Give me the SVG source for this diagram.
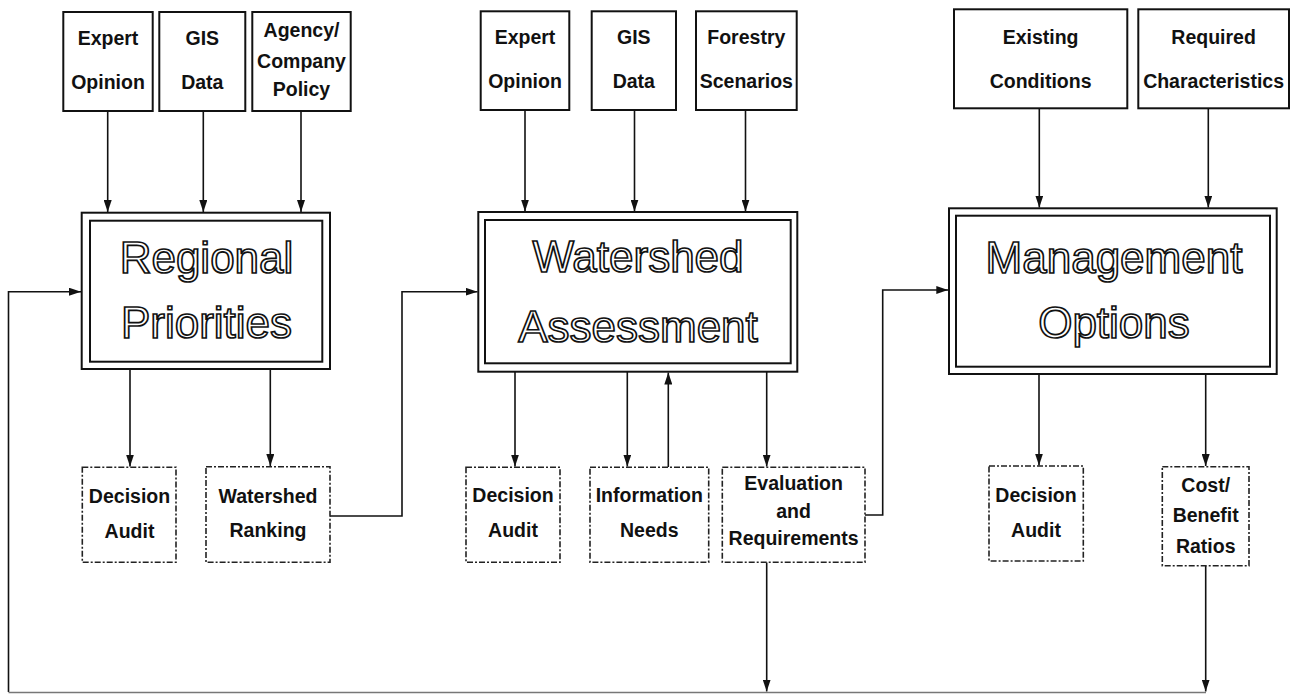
<svg xmlns="http://www.w3.org/2000/svg" width="1294" height="694" viewBox="0 0 1294 694">
<defs>
<marker id="ah" markerWidth="12" markerHeight="8" refX="12" refY="4" orient="auto" markerUnits="userSpaceOnUse">
<path d="M0,0 L12,4 L0,8 Z" fill="#111"/>
</marker>
<style>
.box{fill:#fff;stroke:#111;stroke-width:2}
.dbox{fill:#fff;stroke:#222;stroke-width:1.6;stroke-dasharray:6 2 2 2}
.t{font-family:"Liberation Sans",Arial,Helvetica,sans-serif;font-weight:bold;font-size:19.5px;fill:#111;text-anchor:middle}
.big{font-family:"Liberation Sans",Arial,Helvetica,sans-serif;font-size:44px;fill:#fff;stroke:#111;stroke-width:1.7;text-anchor:middle}
.c{fill:none;stroke:#111;stroke-width:1.6}
</style>
</defs>
<rect width="1294" height="694" fill="#fff"/>

<g id="connectors">
<path class="c" d="M107.7,111 V212" marker-end="url(#ah)"/>
<path class="c" d="M203.3,111 V212" marker-end="url(#ah)"/>
<path class="c" d="M301,111 V212" marker-end="url(#ah)"/>
<path class="c" d="M525,110 V211.5" marker-end="url(#ah)"/>
<path class="c" d="M634.5,110 V211.5" marker-end="url(#ah)"/>
<path class="c" d="M745.5,110 V211.5" marker-end="url(#ah)"/>
<path class="c" d="M1039.3,108.3 V207.5" marker-end="url(#ah)"/>
<path class="c" d="M1208.3,108.3 V207.5" marker-end="url(#ah)"/>
<path class="c" d="M130,369 V466.5" marker-end="url(#ah)"/>
<path class="c" d="M270.3,369 V466" marker-end="url(#ah)"/>
<path class="c" d="M515,371.7 V466.5" marker-end="url(#ah)"/>
<path class="c" d="M627.3,371.7 V466.5" marker-end="url(#ah)"/>
<path class="c" d="M668.3,467 V372.5" marker-end="url(#ah)"/>
<path class="c" d="M766.7,371.7 V466.5" marker-end="url(#ah)"/>
<path class="c" d="M1039,374 V465.5" marker-end="url(#ah)"/>
<path class="c" d="M1205.7,374 V466" marker-end="url(#ah)"/>
<path class="c" d="M8.5,692 V291.7 H81" marker-end="url(#ah)"/>
<path class="c" d="M330,516 H402 V291.7 H477.5" marker-end="url(#ah)"/>
<path class="c" d="M865,515 H882.7 V290 H948.3" marker-end="url(#ah)"/>
<path class="c" d="M766.7,562.3 V691.5" marker-end="url(#ah)"/>
<path class="c" d="M1205.7,565.7 V691.5" marker-end="url(#ah)"/>
<path d="M8.5,692.5 H1206" fill="none" stroke="#777" stroke-width="1.4"/>
</g>

<g id="in-expert1"><rect class="box" x="63.3" y="12" width="89.4" height="99"/><text class="t" x="108" y="45">Expert</text><text class="t" x="108" y="89">Opinion</text></g>
<g id="in-gis1"><rect class="box" x="159.3" y="12" width="86" height="99"/><text class="t" x="202.3" y="45">GIS</text><text class="t" x="202.3" y="89">Data</text></g>
<g id="in-agency"><rect class="box" x="252.3" y="12" width="98.4" height="99"/><text class="t" x="301.5" y="37">Agency/</text><text class="t" x="301.5" y="67.5">Company</text><text class="t" x="301.5" y="96">Policy</text></g>

<g id="in-expert2"><rect class="box" x="480.7" y="11.3" width="88.6" height="98.7"/><text class="t" x="525" y="43.5">Expert</text><text class="t" x="525" y="87.5">Opinion</text></g>
<g id="in-gis2"><rect class="box" x="591.7" y="11.3" width="84.3" height="98.7"/><text class="t" x="633.8" y="43.5">GIS</text><text class="t" x="633.8" y="87.5">Data</text></g>
<g id="in-forestry"><rect class="box" x="696" y="11.3" width="100.7" height="98.7"/><text class="t" x="746.3" y="43.5">Forestry</text><text class="t" x="746.3" y="87.5">Scenarios</text></g>

<g id="in-existing"><rect class="box" x="954" y="9.3" width="173.3" height="99"/><text class="t" x="1040.6" y="43.5">Existing</text><text class="t" x="1040.6" y="87.5">Conditions</text></g>
<g id="in-required"><rect class="box" x="1138.3" y="9.3" width="150.7" height="99"/><text class="t" x="1213.6" y="43.5">Required</text><text class="t" x="1213.6" y="87.5">Characteristics</text></g>

<g id="regional"><rect class="box" x="81.7" y="212.7" width="248.3" height="156.3"/><rect class="box" x="90" y="220.7" width="232.3" height="141"/><text class="big" x="206.5" y="273">Regional</text><text class="big" x="206.5" y="338.3">Priorities</text></g>
<g id="watershed"><rect class="box" x="478.3" y="212" width="319" height="159.7"/><rect class="box" x="485" y="220" width="305.7" height="143.3"/><text class="big" x="638" y="271.7">Watershed</text><text class="big" x="638" y="341.7">Assessment</text></g>
<g id="management"><rect class="box" x="949" y="208.3" width="327.7" height="165.7"/><rect class="box" x="956" y="215.7" width="314" height="151"/><text class="big" x="1114" y="272.7">Management</text><text class="big" x="1114" y="337.7">Options</text></g>

<g id="out-audit1"><rect class="dbox" x="82.3" y="467.3" width="93.7" height="95"/><text class="t" x="129.5" y="503">Decision</text><text class="t" x="129.5" y="538">Audit</text></g>
<g id="out-ranking"><rect class="dbox" x="206" y="466.7" width="124" height="95.6"/><text class="t" x="268" y="502.7">Watershed</text><text class="t" x="268" y="537">Ranking</text></g>
<g id="out-audit2"><rect class="dbox" x="466" y="467.3" width="94" height="95"/><text class="t" x="513" y="502">Decision</text><text class="t" x="513" y="537">Audit</text></g>
<g id="out-info"><rect class="dbox" x="590" y="467.3" width="118.7" height="95"/><text class="t" x="649.3" y="502">Information</text><text class="t" x="649.3" y="537">Needs</text></g>
<g id="out-eval"><rect class="dbox" x="722.3" y="467.3" width="142.7" height="95"/><text class="t" x="793.6" y="490">Evaluation</text><text class="t" x="793.6" y="518">and</text><text class="t" x="793.6" y="545">Requirements</text></g>
<g id="out-audit3"><rect class="dbox" x="989" y="466" width="94.3" height="95"/><text class="t" x="1036" y="502">Decision</text><text class="t" x="1036" y="537">Audit</text></g>
<g id="out-cost"><rect class="dbox" x="1162.3" y="466.7" width="86.7" height="99"/><text class="t" x="1205.7" y="492">Cost/</text><text class="t" x="1205.7" y="522">Benefit</text><text class="t" x="1205.7" y="553">Ratios</text></g>
</svg>
